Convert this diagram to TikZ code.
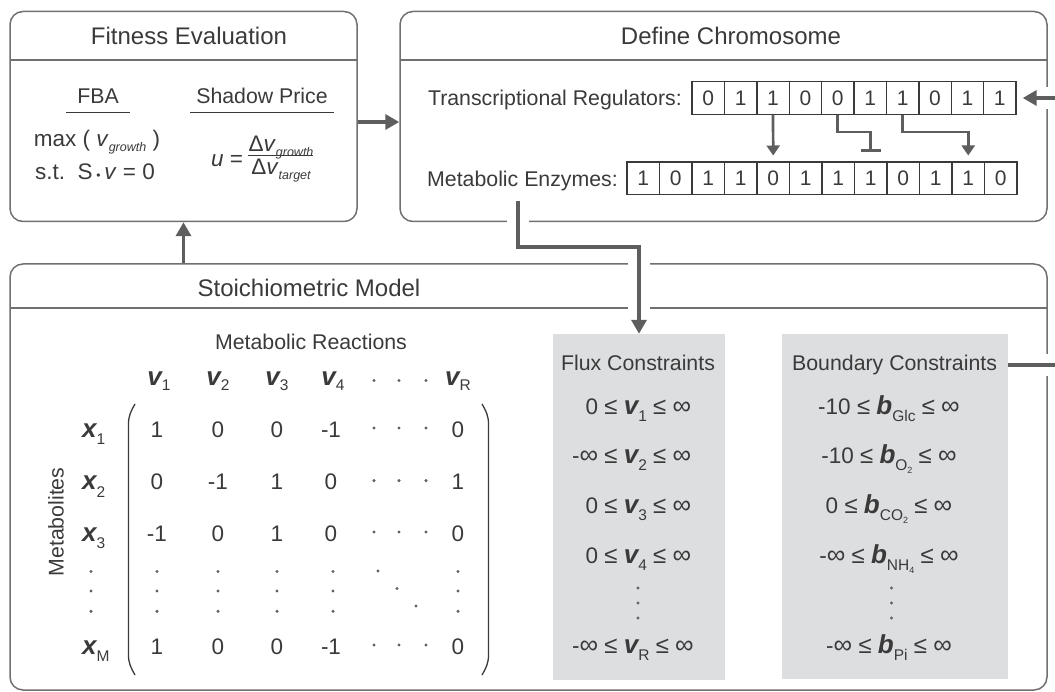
\documentclass[tikz,border=0pt]{standalone}
\usepackage{fontspec}
\setmainfont{Liberation Sans}
\usetikzlibrary{arrows.meta}

\definecolor{inkgray}{HTML}{3A3A3A}
\definecolor{framegray}{HTML}{707070}
\definecolor{flowgray}{HTML}{5E5E5E}
\definecolor{panelfill}{HTML}{DDDEE0}

\newcommand\titlefont{\fontsize{24}{28}\selectfont}
\newcommand\bodyfont{\fontsize{21.3}{25}\selectfont}
\newcommand\mathfont{\fontsize{22.5}{26}\selectfont}
\newcommand\bv[1]{{\fontsize{26}{28}\selectfont\bfseries\itshape #1}}
\newcommand\lsub[2][7pt]{\raisebox{-#1}{\fontsize{15.5}{16}\selectfont #2}}
\newcommand\isub[1]{\raisebox{-5pt}{\fontsize{12.5}{13}\selectfont\itshape #1}}
\newcommand\tinysub[1]{\raisebox{-3pt}{\fontsize{9}{9}\selectfont #1}}
\newcommand\leqs{{\fontsize{24}{26}\selectfont ≤}}
\newcommand\infs{{\fontsize{26}{26}\selectfont ∞}}

\tikzset{
  panel/.style={draw=framegray, line width=1.5pt, rounded corners=13pt},
  rule/.style={draw=framegray, line width=1.5pt},
  cpanel/.style={fill=panelfill, draw=none},
  title/.style={anchor=base, font=\titlefont},
  bit/.style={draw=inkgray, line width=1.4pt, minimum width=32.4pt, minimum height=32.6pt, font=\fontsize{21}{21}\selectfont},
  flow/.style={draw=flowgray, line width=3.5pt, -{Triangle[length=14pt,width=15pt]}},
  reg/.style={draw=flowgray, line width=2.7pt, shorten >=6pt, -{Triangle[length=10pt,width=13pt]}},
  regstop/.style={draw=flowgray, line width=2.7pt, shorten >=9.5pt, -{Bar[width=20pt]}},
  halo/.style={draw=white, line width=22pt},
  dot/.style={fill=inkgray!80}
}

\begin{document}
\begin{tikzpicture}[x=1pt,y=-1pt,
  every node/.style={text=inkgray, inner sep=0pt, font=\bodyfont}]
  \path[use as bounding box, clip] (0,0) rectangle (1055,692);

  % frames
  \node[panel, minimum width=347pt, minimum height=210pt] (fitness) at (183.5,116.5) {};
  \node[panel, minimum width=647pt, minimum height=210pt] (define) at (723.5,116.5) {};
  \node[panel, minimum width=1037pt, minimum height=426pt] (stoich) at (528.5,477) {};
  \draw[rule] (10,60) -- (357,60);
  \draw[rule] (400,60) -- (1047,60);
  \draw[rule] (10,308) -- (1047,308);

  % constraint panels
  \node[cpanel, minimum width=172pt, minimum height=346pt] (flux) at (639,507) {};
  \node[cpanel, minimum width=226pt, minimum height=345pt] (bound) at (895,506.5) {};

  % chromosome rows
  \node[anchor=base east] (reglab) at (682,106) {Transcriptional Regulators:};
  \foreach \b [count=\i] in {0,1,1,0,0,1,1,0,1,1}
    \node[bit] (r\i) at ({692+(\i-0.5)*32.4},98) {\b};
  \node[anchor=base east] (enzlab) at (618,186.7) {Metabolic Enzymes:};
  \foreach \b [count=\i] in {1,0,1,1,0,1,1,1,0,1,1,0}
    \node[bit] (e\i) at ({627+(\i-0.5)*32.5},178.5) {\b};
  \coordinate (enzout) at (518,201);

  % gaps where links cross frames
  \draw[halo] (enzout) -- ++(0,46) -| (flux.north);
  \draw[halo] (bound.east |- 0,365) -- ++(57,0) |- (r10.east);

  % titles
  \node[title] (fithd) at (189,45) {Fitness Evaluation};
  \node[title] (defhd) at (731,45) {Define Chromosome};
  \node[title] (stohd) at (309,297) {Stoichiometric Model};

  % fitness contents
  \node[anchor=base] (fba) at (98,104) {FBA};
  \node[anchor=base] (price) at (262,104) {Shadow Price};
  \draw[draw=inkgray, line width=1.2pt] (66,112.7) -- (130,112.7);
  \draw[draw=inkgray, line width=1.2pt] (190,112.7) -- (334,112.7);
  \node[anchor=base, font=\mathfont] (fbaobj) at (97,146.7) {max ( \textit{v}\isub{growth} )};
  \node[anchor=base, font=\mathfont] (fbast) at (95,180) {s.t.\ \ S\,{\fontsize{12}{12}\selectfont •}\,\textit{v} = 0};
  \node[anchor=base west, font=\mathfont] (ueq) at (211,166.7) {\textit{u} =};
  \node[anchor=base, font=\mathfont] (unum) at (281,151.7) {Δ\textit{v}\isub{growth}};
  \node[anchor=base, font=\mathfont] (uden) at (281,175) {Δ\textit{v}\isub{target}};
  \draw[draw=inkgray, line width=1.2pt] (248,155.5) -- (313,155.5);

  % matrix
  \node[anchor=base] (reacts) at (311,350) {Metabolic Reactions};
  \node[rotate=90] (metabs) at (56,522) {Metabolites};
  \foreach \s/\x in {1/159,2/218,3/277,4/333,R/458}
    \node[anchor=base] (v\s) at (\x,386) {\bv{v}\lsub[5pt]{\s}};
  \foreach \x in {374,399,426}
    \fill[dot] (\x,380.5) circle (1.7pt);
  \foreach \r/\y/\a/\b/\c/\d/\e in {1/437/1/0/0/-1/0, 2/489.6/0/-1/1/0/1, 3/541/-1/0/1/0/0, M/654/1/0/0/-1/0}{
    \node[anchor=base west] (x\r) at (82,\y) {\bv{x}\lsub[7.5pt]{\r}};
    \node[anchor=base, font=\mathfont] (m\r-1) at (157,\y) {\a};
    \node[anchor=base, font=\mathfont] (m\r-2) at (218,\y) {\b};
    \node[anchor=base, font=\mathfont] (m\r-3) at (277,\y) {\c};
    \node[anchor=base, font=\mathfont] (m\r-4) at (331,\y) {\d};
    \node[anchor=base, font=\mathfont] (m\r-5) at (458,\y) {\e};
    \foreach \x in {374,399,426}
      \fill[dot] (\x,\y-9) circle (1.7pt);
  }
  \foreach \x in {91,157,218,277,333,458}
    \foreach \y in {571.5,591,611.3}
      \fill[dot] (\x,\y) circle (1.7pt);
  \foreach \x/\y in {378/571,397/588.5,416/606}
    \fill[dot] (\x,\y) circle (1.7pt);
  \draw[draw=inkgray, line width=1.3pt] (135,404) to[out=240,in=90] (128.5,424) -- (128.5,655) to[out=-90,in=120] (135,675);
  \draw[draw=inkgray, line width=1.3pt] (482,404) to[out=-60,in=90] (488.5,424) -- (488.5,655) to[out=-90,in=60] (482,675);

  % flux constraints
  \node[anchor=base] (fluxhd) at (638,370.6) {Flux Constraints};
  \foreach \lo/\s/\y [count=\k] in {0/1/414, -\infs/2/463, 0/3/513, 0/4/563, -\infs/R/653.5}
    \node[anchor=base west, font=\mathfont] (fx\k) at (565,\y) {\makebox[33pt][r]{\lo}\ \leqs\ \bv{v}\lsub{\s}\ \leqs\ \infs};
  \foreach \y in {588,603,618}
    \fill[dot] (638,\y) circle (1.7pt);

  % boundary constraints
  \node[anchor=base] (boundhd) at (894.6,370.6) {Boundary Constraints};
  \foreach \lo/\s/\y [count=\k] in {-10/Glc/414, -10/O\tinysub{2}/463, 0/CO\tinysub{2}/513, -\infs/NH\tinysub{4}/563, -\infs/Pi/653.5}
    \node[anchor=base, font=\mathfont] (bd\k) at (889,\y) {\lo\ \leqs\ \bv{b}\lsub{\s}\ \leqs\ \infs};
  \foreach \y in {588,603,618}
    \fill[dot] (891.5,\y) circle (1.7pt);

  % links
  \draw[flow] ([yshift=-5.5pt]fitness.east) -- ([yshift=-5.5pt]define.west);
  \draw[flow] (stoich.north -| fitness.south) -- (fitness.south);
  \draw[flow] (enzout) -- ++(0,46) -| (flux.north);
  \draw[flow, shorten >=6pt] (bound.east |- 0,365) -- ++(57,0) |- (r10.east);
  \draw[reg] (r3.south) -- (e5.north);
  \draw[regstop] (r5.south) -- ++(0,17) -| (e8.north);
  \draw[reg] (r7.south) -- ++(0,17) -| (e11.north);
\end{tikzpicture}
\end{document}
